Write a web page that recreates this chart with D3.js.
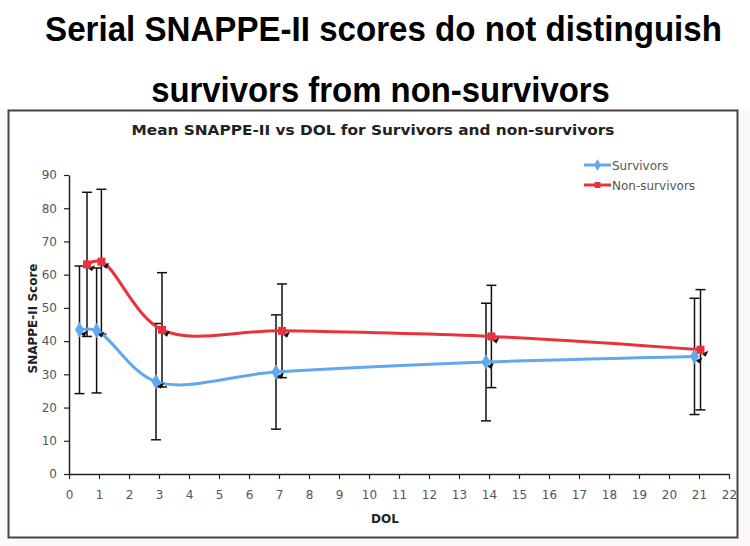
<!DOCTYPE html>
<html><head><meta charset="utf-8">
<script src="https://cdn.jsdelivr.net/npm/d3@7"></script>
<style>body{margin:0;background:#fff}svg{display:block}</style>
</head><body>
<script>
const mainTitle = ["Serial SNAPPE-II scores do not distinguish", "survivors from non-survivors"];
const chartTitle = "Mean SNAPPE-II vs DOL for Survivors and non-survivors";
const xTicks = d3.range(0, 23);
const yTicks = [0,10,20,30,40,50,60,70,80,90];
const seriesNames = ["Survivors", "Non-survivors"];
const survDOL   = [0.35, 0.92, 2.9, 6.9, 13.9, 20.85];
const survMean  = [43.4, 43.2, 27.8, 30.7, 33.7, 35.4];
const survErr   = [19.2, 18.8, 17.5, 17.2, 17.7, 17.5];
const nonDOL    = [0.6, 1.08, 3.1, 7.1, 14.08, 21.05];
const nonMean   = [63.1, 63.9, 43.4, 43.1, 41.4, 37.4];
const nonErr    = [21.7, 21.8, 17.2, 14.1, 15.4, 18.1];
const colors = ["#62a8ec", "#e8323c"];

const W = 750, H = 546;
const svg = d3.select("body").append("svg").attr("width", W).attr("height", H);
svg.append("rect").attr("width", W).attr("height", H).attr("fill", "#fdf8f9");
svg.append("rect").attr("x", 0).attr("y", 0).attr("width", W).attr("height", 108).attr("fill", "#fff");

// main title (condensed by horizontal scaling)
const tLen = [677, 459], tY = [41, 102], tX = [383.5, 380.5];
mainTitle.forEach((t, i) => {
  const g = svg.append("g");
  const txt = g.append("text").attr("x", 0).attr("y", 0).attr("text-anchor", "middle")
    .attr("font-family", "Liberation Sans, Arial, sans-serif").attr("font-weight", "bold")
    .attr("font-size", 36).attr("fill", "#000").text(t);
  const natural = txt.node().getComputedTextLength();
  g.attr("transform", `translate(${tX[i]},${tY[i]}) scale(${tLen[i] / natural},1)`);
});

// chart box
svg.append("rect").attr("x", 8.5).attr("y", 110.5).attr("width", 729).attr("height", 427)
  .attr("fill", "#fff").attr("stroke", "#444").attr("stroke-width", 2);

svg.append("text").attr("x", 373).attr("y", 135).attr("text-anchor", "middle")
  .attr("font-family", "DejaVu Sans, Verdana, sans-serif").attr("font-weight", "bold")
  .attr("font-size", 13.5).attr("textLength", 483).attr("lengthAdjust", "spacingAndGlyphs")
  .attr("fill", "#222").text(chartTitle);

const x = d3.scaleLinear().domain([0, 22]).range([69, 729]);
const y = d3.scaleLinear().domain([0, 90]).range([474, 175]);

const fontTick = "DejaVu Sans, Verdana, sans-serif";
const xAxis = svg.append("g").attr("transform", `translate(0,${y(0)})`)
  .call(d3.axisBottom(x).tickValues(xTicks).tickSize(5).tickSizeOuter(0).tickPadding(11));
const yAxis = svg.append("g").attr("transform", `translate(${x(0)},0)`)
  .call(d3.axisLeft(y).tickValues(yTicks).tickSize(5).tickSizeOuter(0).tickPadding(7));
[xAxis, yAxis].forEach(a => {
  a.select(".domain").attr("stroke", "#222").attr("stroke-width", 1.5);
  a.selectAll(".tick line").attr("stroke", "#222").attr("stroke-width", 1.2);
  a.selectAll("text").attr("font-family", fontTick).attr("font-size", 12).attr("fill", "#555");
});

svg.append("text").attr("transform", `translate(37,${(y(0)+y(90))/2 - 6}) rotate(-90)`)
  .attr("text-anchor", "middle").attr("font-family", fontTick).attr("font-weight", "bold")
  .attr("font-size", 12).attr("fill", "#222").text("SNAPPE-II Score");
svg.append("text").attr("x", 385).attr("y", 523).attr("text-anchor", "middle")
  .attr("font-family", fontTick).attr("font-weight", "bold")
  .attr("font-size", 12).attr("fill", "#222").text("DOL");

const series = [
  {name: seriesNames[0], xs: survDOL, m: survMean, e: survErr, c: colors[0], shape: d3.symbolDiamond},
  {name: seriesNames[1], xs: nonDOL, m: nonMean, e: nonErr, c: colors[1], shape: d3.symbolSquare}
];

// error bars
series.forEach(s => {
  const g = svg.append("g").attr("stroke", "#111").attr("stroke-width", 1.5);
  s.xs.forEach((dx, i) => {
    const cx = x(dx), top = y(s.m[i] + s.e[i]), bot = y(s.m[i] - s.e[i]);
    g.append("line").attr("x1", cx).attr("x2", cx).attr("y1", top).attr("y2", bot);
    g.append("line").attr("x1", cx - 5).attr("x2", cx + 5).attr("y1", top).attr("y2", top);
    g.append("line").attr("x1", cx - 5).attr("x2", cx + 5).attr("y1", bot).attr("y2", bot);
  });
});

const line = d3.line().curve(d3.curveCatmullRom.alpha(0.5));
series.forEach(s => {
  const pts = s.xs.map((dx, i) => [x(dx), y(s.m[i])]);
  svg.append("path").attr("d", line(pts)).attr("fill", "none")
    .attr("stroke", s.c).attr("stroke-width", 3);
});
series.forEach(s => {
  s.xs.forEach((dx, i) => {
    const cx = x(dx), cy = y(s.m[i]);
    svg.append("path").attr("d", "M0,0 L7,-3 L4,3 Z").attr("fill", "#111")
      .attr("transform", `translate(${cx + 1},${cy + 4})`);
    svg.append("path").attr("d", d3.symbol().type(s.shape).size(s.shape === d3.symbolSquare ? 64 : 70)())
      .attr("fill", s.c).attr("transform", `translate(${cx},${cy})`);
  });
});

// legend
series.forEach((s, i) => {
  const ly = 165 + i * 20;
  svg.append("line").attr("x1", 584).attr("x2", 611).attr("y1", ly).attr("y2", ly)
    .attr("stroke", s.c).attr("stroke-width", 3);
  svg.append("path").attr("d", d3.symbol().type(s.shape).size(s.shape === d3.symbolSquare ? 36 : 40)())
    .attr("fill", s.c).attr("transform", `translate(597.5,${ly})`);
  svg.append("text").attr("x", 612).attr("y", ly + 4.5).attr("font-family", fontTick)
    .attr("font-size", 12).attr("fill", "#555").text(s.name);
});
</script>
</body></html>
